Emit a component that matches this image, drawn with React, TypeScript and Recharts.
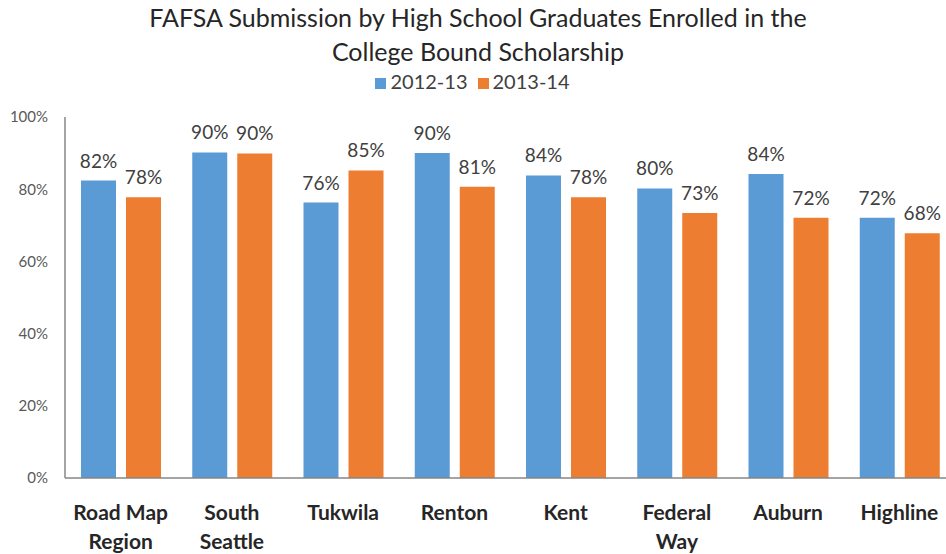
import React from "react";
import { BarChart, Bar, XAxis, YAxis, Legend, LabelList } from "recharts";

const categories = ["Road Map\nRegion", "South\nSeattle", "Tukwila", "Renton", "Kent", "Federal\nWay", "Auburn", "Highline"];
const series2012 = [82.4, 90.2, 76.3, 90.0, 83.8, 80.2, 84.2, 72.1];
const series2013 = [77.8, 89.9, 85.2, 80.7, 77.8, 73.4, 72.1, 67.8];
const yTicks = [0, 20, 40, 60, 80, 100];

const data = categories.map((c, i) => ({ name: c, a: series2012[i], b: series2013[i] }));

const FONT = "Lato, 'Open Sans', sans-serif";
const W = 956;

const CatTick = (props: any) => {
  const { x, y, payload } = props;
  const lines = String(payload.value).split("\n");
  return (
    <g transform={`translate(${x},${y})`}>
      {lines.map((l: string, i: number) => (
        <text key={i} x={0} y={0} dy={34 + i * 29} textAnchor="middle" fill="#262626" fontSize={21} fontWeight={700} fontFamily={FONT}>
          {l}
        </text>
      ))}
    </g>
  );
};

export default function App() {
  return (
    <div style={{ position: "absolute", left: 0, top: 0, width: 946, height: 554, background: "#fff", fontFamily: FONT, overflow: "hidden" }}>
      <div style={{ position: "absolute", left: 0, top: 0, width: W, textAlign: "center", fontSize: 25, lineHeight: "34px", color: "#262626" }}>
        FAFSA Submission by High School Graduates Enrolled in the
        <br />
        College Bound Scholarship
      </div>
      <BarChart
        width={W}
        height={554}
        data={data}
        margin={{ top: 93, right: 1, bottom: 0, left: 0 }}
        barGap={10}
        barSize={35}
      >
        <Legend
          verticalAlign="top"
          align="center"
          iconType="square"
          iconSize={11}
          wrapperStyle={{ top: 69, fontSize: 20, color: "#404040" }}
          formatter={(v: any) => <span style={{ color: "#404040", fontSize: 20 }}>{v}</span>}
        />
        <XAxis
          dataKey="name"
          tick={<CatTick />}
          tickLine={false}
          axisLine={{ stroke: "#868686", strokeWidth: 1.5 }}
          height={76}
          interval={0}
        />
        <YAxis
          domain={[0, 100]}
          ticks={yTicks}
          tickFormatter={(v: number) => `${v}%`}
          tickLine={false}
          axisLine={{ stroke: "#868686", strokeWidth: 1.5 }}
          width={65}
          tickSize={6}
          tickMargin={11}
          tick={{ fill: "#595959", fontSize: 15, fontFamily: FONT }}
        />
        <Bar dataKey="a" name="2012-13" fill="#5B9BD5" isAnimationActive={false}>
          <LabelList dataKey="a" position="top" offset={13} formatter={(v: any) => `${Math.round(v)}%`} fill="#404040" fontSize={19} fontFamily={FONT} />
        </Bar>
        <Bar dataKey="b" name="2013-14" fill="#ED7D31" isAnimationActive={false}>
          <LabelList dataKey="b" position="top" offset={13} formatter={(v: any) => `${Math.round(v)}%`} fill="#404040" fontSize={19} fontFamily={FONT} />
        </Bar>
      </BarChart>
    </div>
  );
}
